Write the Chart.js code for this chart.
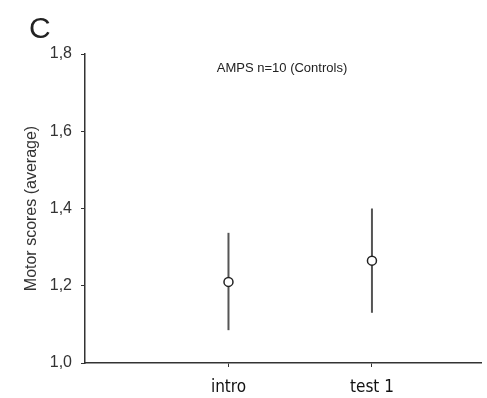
<!DOCTYPE html>
<html>
<head>
<meta charset="utf-8">
<script src="https://cdn.jsdelivr.net/npm/chart.js@4.4.0/dist/chart.umd.min.js"></script>
<style>
  html, body { margin: 0; padding: 0; background: #fff; }
  #wrap { position: relative; width: 487px; height: 398px; }
</style>
</head>
<body>
<div id="wrap"><canvas id="myChart" width="487" height="398"></canvas></div>
<script>
var categories = ['intro', 'test 1'];
var catPos = [1, 2];
var means = [1.21, 1.265];
var upper = [1.337, 1.40];
var lower = [1.085, 1.13];
var yTicks = [1.0, 1.2, 1.4, 1.6, 1.8];
var yTickLabels = ['1,0', '1,2', '1,4', '1,6', '1,8'];
var panelLetter = 'C';
var plotTitle = 'AMPS n=10 (Controls)';
var yTitle = 'Motor scores (average)';

var axisColor = '#333';

// one little line dataset per error bar
var datasets = [{
    label: 'mean',
    data: catPos.map(function (x, i) { return { x: x, y: means[i] }; }),
    pointRadius: 4.5,
    pointHoverRadius: 4.5,
    pointBackgroundColor: '#fff',
    pointBorderColor: '#222',
    pointBorderWidth: 1.5,
    showLine: false,
    order: 0
}];
for (var i = 0; i < categories.length; i++) {
    datasets.push({
        label: 'err ' + categories[i],
        data: [{ x: catPos[i], y: lower[i] }, { x: catPos[i], y: upper[i] }],
        showLine: true,
        borderColor: '#555',
        borderWidth: 2,
        pointRadius: 0,
        order: 1
    });
}

var textPlugin = {
    id: 'texts',
    afterDraw: function (chart) {
        var c = chart.ctx;
        c.save();
        c.fillStyle = '#222';
        c.textBaseline = 'alphabetic';
        c.textAlign = 'left';
        c.font = '30px "Liberation Sans", Arial, sans-serif';
        c.fillText(panelLetter, 29, 38);
        c.textAlign = 'center';
        c.font = '13px "Liberation Sans", Arial, sans-serif';
        c.fillText(plotTitle, 282, 72);
        c.restore();
    }
};

var ctx = document.getElementById('myChart');
var myChart = new Chart(ctx, {
    type: 'scatter',
    data: { datasets: datasets },
    options: {
        responsive: false,
        animation: false,
        layout: { padding: { top: 54, left: 0, right: 0, bottom: 0 } },
        plugins: { legend: { display: false }, tooltip: { enabled: false } },
        scales: {
            x: {
                type: 'linear',
                min: 0,
                max: 2.76,
                afterBuildTicks: function (scale) {
                    scale.ticks = catPos.map(function (v) { return { value: v }; });
                },
                afterFit: function (scale) { scale.height = 35; },
                grid: { drawOnChartArea: false, drawTicks: true, tickLength: 4, color: axisColor, lineWidth: 1 },
                border: { display: true, color: axisColor, width: 1.5 },
                ticks: {
                    padding: 10,
                    color: '#111',
                    font: { family: '"DejaVu Sans Condensed", "Liberation Sans", Arial', size: 17 },
                    callback: function (v) {
                        var k = catPos.indexOf(v);
                        return k >= 0 ? categories[k] : '';
                    }
                }
            },
            y: {
                min: 1.0,
                max: 1.8,
                afterBuildTicks: function (scale) {
                    scale.ticks = yTicks.map(function (v) { return { value: v }; });
                },
                afterFit: function (scale) { scale.width = 85; },
                grid: { drawOnChartArea: false, drawTicks: true, tickLength: 4, color: axisColor, lineWidth: 1 },
                border: { display: true, color: axisColor, width: 1.5 },
                ticks: {
                    padding: 9,
                    color: '#333',
                    font: { family: '"Liberation Sans", Arial', size: 16 },
                    callback: function (v) {
                        var k = yTicks.indexOf(v);
                        return k >= 0 ? yTickLabels[k] : '';
                    }
                },
                title: {
                    display: true,
                    text: yTitle,
                    color: '#333',
                    padding: { top: 22, bottom: 0 },
                    font: { family: '"Liberation Sans", Arial', size: 16 }
                }
            }
        }
    },
    plugins: [textPlugin]
});
</script>
</body>
</html>
